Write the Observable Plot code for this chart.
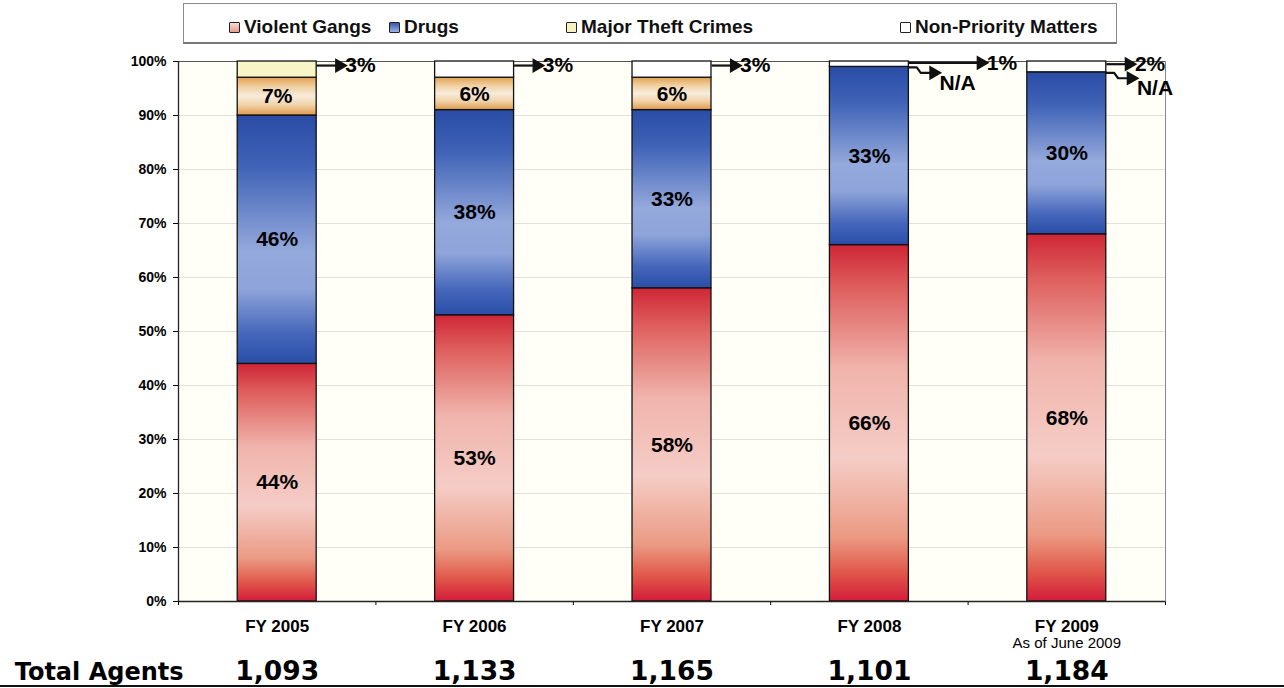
<!DOCTYPE html>
<html>
<head>
<meta charset="utf-8">
<script src="https://cdn.jsdelivr.net/npm/d3@7"></script>
<script src="https://cdn.jsdelivr.net/npm/@observablehq/plot@0.6"></script>
<style>
  html, body { margin: 0; padding: 0; background: #fff; }
  #wrap { position: relative; width: 1284px; height: 688px; overflow: hidden; font-family: "Liberation Sans", Arial, sans-serif; }
  #legend { position: absolute; left: 183px; top: 3px; width: 932px; height: 38px; border: 1px solid #8a8a8a; border-bottom: 2px solid #777; background: #fff; }
  .item { position: absolute; top: 6px; height: 34px; display: flex; align-items: center; font-weight: bold; font-size: 19px; color: #111; white-space: nowrap; }
  .sw { width: 9px; height: 9px; border: 1.5px solid #222; margin-right: 4px; border-radius: 1px; }
  #chart { position: absolute; left: 0; top: 48px; }
  #bottomline { position: absolute; left: 0; top: 685px; width: 1284px; height: 2px; background: #111; }
</style>
</head>
<body>
<div id="wrap">
  <div id="legend"></div>
  <div id="chart"></div>
  <div id="bottomline"></div>
</div>
<script>
// ---- data ----
const years = ["FY 2005", "FY 2006", "FY 2007", "FY 2008", "FY 2009"];
const subLabels = ["", "", "", "", "As of June 2009"];
const violentGangs = [44, 53, 58, 66, 68];
const drugs = [46, 38, 33, 33, 30];
const majorTheft = [7, 6, 6, null, null];
const nonPriority = [3, 3, 3, 1, 2];
const totalAgents = [1093, 1133, 1165, 1101, 1184];
const seriesNames = ["Violent Gangs", "Drugs", "Major Theft Crimes", "Non-Priority Matters"];
const yTicks = [0, 10, 20, 30, 40, 50, 60, 70, 80, 90, 100];

// ---- legend ----
const legendSwatch = {
  "Violent Gangs": "linear-gradient(#f6dcd8,#e99a90)",
  "Drugs": "linear-gradient(#3558b0,#9fb2e0)",
  "Major Theft Crimes": "#f6f1c0",
  "Non-Priority Matters": "#ffffff"
};
const legendLeft = [45, 205, 382, 716];
const legend = document.getElementById("legend");
seriesNames.forEach((s, i) => {
  const it = document.createElement("div");
  it.className = "item";
  it.style.left = legendLeft[i] + "px";
  const sw = document.createElement("span");
  sw.className = "sw";
  sw.style.background = legendSwatch[s];
  it.appendChild(sw);
  it.appendChild(document.createTextNode(s));
  legend.appendChild(it);
});

// ---- build stacked rows ----
const seriesValues = [violentGangs, drugs, majorTheft, nonPriority];
const keys = ["gangs", "drugs", "theft", "np"];
const rows = [];
years.forEach((yr, i) => {
  let cum = 0;
  seriesValues.forEach((vals, k) => {
    const v = vals[i];
    if (v == null) return;
    rows.push({year: yr, i, key: keys[k], series: seriesNames[k], value: v, y1: cum, y2: cum + v});
    cum += v;
  });
});
const halfW = 0.2;
const fillFor = d => {
  if (d.key === "np") return d.i === 0 ? "#f8f6c6" : "#ffffff";
  return `url(#grad-${d.key})`;
};
const inside = rows.filter(d => d.key !== "np");
const npRows = rows.filter(d => d.key === "np");
const arrowLen = d => d.year === "FY 2008" ? 0.39 : 0.14;
const npY = d => d.y2 - d.value / 4;
const naRows = years.map((yr, i) => ({year: yr, i})).filter(d => majorTheft[d.i] == null);
const naTop = d => violentGangs[d.i] + drugs[d.i];
const yearRows = years.map((yr, i) => ({year: yr, i, sub: subLabels[i], total: totalAgents[i]}));

const FONT = "Liberation Sans, Arial, sans-serif";
const edge = d => d.i + 0.5 + halfW;

const plot = Plot.plot({
  width: 1284,
  height: 640,
  marginTop: 13,
  marginBottom: 87,
  marginLeft: 178,
  marginRight: 119,
  style: {fontFamily: FONT, fontSize: "14px", fontWeight: "bold", color: "#000", background: "transparent"},
  x: {domain: [0, 5], ticks: [0, 1, 2, 3, 4, 5], tickFormat: () => "", tickSize: 4, label: null},
  y: {domain: [0, 100], ticks: yTicks, tickFormat: d => d + "%", tickSize: 5, tickPadding: 7, label: null},
  marks: [
    Plot.frame({fill: "#fffff7", stroke: null}),
    Plot.ruleY(yTicks.filter(t => t > 0 && t < 100), {stroke: "#e2e2d8", strokeWidth: 1}),
    Plot.ruleY([100], {stroke: "#555", strokeWidth: 1.2}),
    Plot.ruleX([5], {stroke: "#888", strokeWidth: 1}),
    Plot.rectY(rows, {
      x1: d => d.i + 0.5 - halfW,
      x2: d => d.i + 0.5 + halfW,
      y1: "y1",
      y2: "y2",
      fill: fillFor,
      stroke: "#111",
      strokeWidth: 1.3
    }),
    Plot.text(inside, {
      x: d => d.i + 0.5,
      y: d => (d.y1 + d.y2) / 2,
      text: d => d.value + "%",
      fontSize: 21,
      fontWeight: "bold",
      fill: "#000"
    }),
    // arrows to non-priority labels
    Plot.link(npRows, {
      x1: edge,
      x2: d => edge(d) + arrowLen(d) - 0.03,
      y1: npY,
      y2: npY,
      stroke: "#111",
      strokeWidth: 2.2
    }),
    Plot.dot(npRows, {
      x: d => edge(d) + arrowLen(d) - 0.025,
      y: npY,
      symbol: "triangle",
      rotate: 90,
      r: 4.5,
      fill: "#111",
      stroke: "#111"
    }),
    Plot.text(npRows, {
      x: d => edge(d) + arrowLen(d),
      y: npY,
      text: d => d.value + "%",
      textAnchor: "start",
      dx: 1,
      fontSize: 21,
      fontWeight: "bold"
    }),
    // N/A arrows for missing major theft
    Plot.line(naRows.flatMap(d => [
      {i: d.i, x: edge(d), y: naTop(d) - 0.1},
      {i: d.i, x: edge(d) + 0.04, y: naTop(d) - 0.1},
      {i: d.i, x: edge(d) + 0.06, y: naTop(d) - 1.1},
      {i: d.i, x: edge(d) + 0.12, y: naTop(d) - 1.1}
    ]), {x: "x", y: "y", z: "i", stroke: "#111", strokeWidth: 2.2, curve: "linear"}),
    Plot.dot(naRows, {
      x: d => edge(d) + 0.125,
      y: d => naTop(d) - 1.1,
      symbol: "triangle",
      rotate: 90,
      r: 4.5,
      fill: "#111",
      stroke: "#111"
    }),
    Plot.text(naRows, {
      x: d => edge(d) + 0.14,
      y: d => naTop(d) - 3,
      text: () => "N/A",
      textAnchor: "start",
      dx: 3,
      fontSize: 21,
      fontWeight: "bold"
    }),
    Plot.ruleX([0], {stroke: "#222", strokeWidth: 1.3}),
    Plot.ruleY([0], {stroke: "#222", strokeWidth: 1.3}),
    // x labels
    Plot.text(yearRows, {
      x: d => d.i + 0.5,
      frameAnchor: "bottom",
      text: "year",
      dy: 30,
      fontSize: 17,
      fontWeight: "bold"
    }),
    Plot.text(yearRows.filter(d => d.sub), {
      x: d => d.i + 0.5,
      frameAnchor: "bottom",
      text: "sub",
      dy: 46,
      fontSize: 15,
      fontWeight: "normal"
    }),
    // Total agents row
    Plot.text(yearRows, {
      x: d => d.i + 0.5,
      frameAnchor: "bottom",
      text: d => d3.format(",")(d.total),
      dy: 78,
      fontSize: 26.5,
      fontWeight: "bold",
      fontFamily: "DejaVu Sans, Verdana, sans-serif"
    }),
    Plot.text(["Total Agents"], {
      x: () => 0,
      frameAnchor: "bottom",
      text: d => d,
      textAnchor: "end",
      dx: 5,
      dy: 78,
      fontSize: 24,
      fontWeight: "bold",
      fontFamily: "DejaVu Sans, Verdana, sans-serif"
    })
  ]
});

// gradients
const svg = d3.select(plot);
const defs = svg.insert("defs", ":first-child");
const grads = {
  gangs: [[0, "#cf2636"], [0.12, "#de5e5c"], [0.35, "#f0b4ac"], [0.6, "#f5cdc6"], [0.82, "#eb9a84"], [0.92, "#e0584a"], [1, "#d31c3a"]],
  drugs: [[0, "#2a4ca6"], [0.2, "#3f62b6"], [0.55, "#94a9dc"], [0.7, "#8ea4da"], [0.88, "#4566ba"], [1, "#2a4ea8"]],
  theft: [[0, "#e2a052"], [0.25, "#f0cfa0"], [0.5, "#f8ecdc"], [0.75, "#f0d0a4"], [1, "#e09a4c"]]
};
Object.entries(grads).forEach(([k, stops]) => {
  const g = defs.append("linearGradient").attr("id", "grad-" + k).attr("x1", 0).attr("y1", 0).attr("x2", 0).attr("y2", 1);
  stops.forEach(([o, c]) => g.append("stop").attr("offset", o).attr("stop-color", c));
});
document.getElementById("chart").appendChild(plot);
</script>
</body>
</html>
